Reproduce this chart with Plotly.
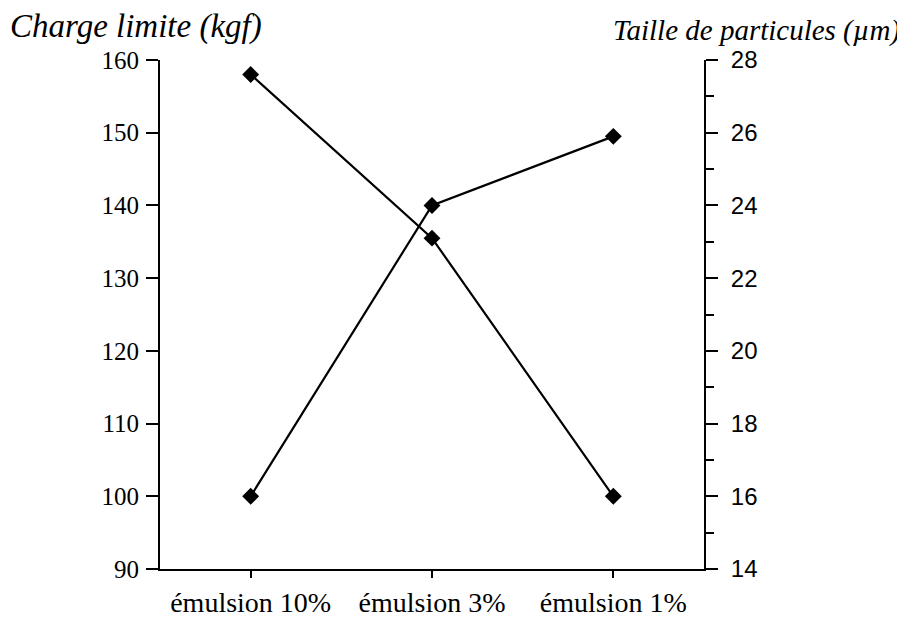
import plotly.graph_objects as go

categories = ["émulsion 10%", "émulsion 3%", "émulsion 1%"]
charge_limite = [158, 135.5, 100]          # kgf, left axis
taille_particules = [16, 24, 25.9]          # µm, right axis
left_ticks = [90, 100, 110, 120, 130, 140, 150, 160]
right_ticks = [14, 16, 18, 20, 22, 24, 26, 28]

xpos = list(range(len(categories)))

SERIF = "Times New Roman, Liberation Serif, serif"
SANS = "Liberation Sans, Arial, sans-serif"

fig = go.Figure()
fig.add_trace(go.Scatter(
    x=xpos, y=charge_limite, mode="lines+markers",
    line=dict(color="black", width=2.2),
    marker=dict(symbol="diamond", size=13, color="black"),
    showlegend=False, yaxis="y"))
fig.add_trace(go.Scatter(
    x=xpos, y=taille_particules, mode="lines+markers",
    line=dict(color="black", width=2.2),
    marker=dict(symbol="diamond", size=13, color="black"),
    showlegend=False, yaxis="y2"))

# page body has an 8px margin: figure coordinates = page coordinates - 8
W, H = 895, 610
L, R, T, B = 152, 199, 52, 49
pw, ph = W - L - R, H - T - B

fig.update_layout(
    width=W, height=H,
    margin=dict(l=L, r=R, t=T, b=B, autoexpand=False),
    paper_bgcolor="white", plot_bgcolor="white",
    xaxis=dict(
        range=[-0.5, 2.5], tickvals=xpos, ticktext=categories, automargin=False,
        showgrid=False, zeroline=False, showline=True, linecolor="black", linewidth=2,
        ticks="outside", ticklen=7, tickwidth=2, tickcolor="black",
        tickfont=dict(family=SERIF, size=28, color="black"),
        ticklabelstandoff=0),
    yaxis=dict(
        range=[90, 160], tickvals=left_ticks, automargin=False,
        showgrid=False, zeroline=False, showline=True, linecolor="black", linewidth=2,
        ticks="outside", ticklen=12, tickwidth=2, tickcolor="black",
        tickfont=dict(family=SERIF, size=25, color="black"),
        ticklabelstandoff=2),
    yaxis2=dict(
        range=[14, 28], tickvals=right_ticks, overlaying="y", side="right", automargin=False,
        showgrid=False, zeroline=False, showline=True, linecolor="black", linewidth=2,
        ticks="outside", ticklen=12, tickwidth=2, tickcolor="black",
        tickfont=dict(family=SANS, size=24, color="black"),
        ticklabelstandoff=8,
        minor=dict(dtick=1, ticks="outside", ticklen=8, tickwidth=2, tickcolor="black")),
    annotations=[
        dict(text="<i>Charge limite (kgf)</i>", xref="paper", yref="paper",
             x=(0 - L) / pw, y=(H - B - 19) / ph, xanchor="left", yanchor="middle",
             showarrow=False, font=dict(family=SERIF, size=33, color="black")),
        dict(text="<i>Taille de particules (µm)</i>", xref="paper", yref="paper",
             x=(W - 1 - L) / pw, y=(H - B - 22) / ph, xanchor="right", yanchor="middle",
             showarrow=False, font=dict(family=SERIF, size=29, color="black")),
    ],
)

fig.write_html("out.html")
